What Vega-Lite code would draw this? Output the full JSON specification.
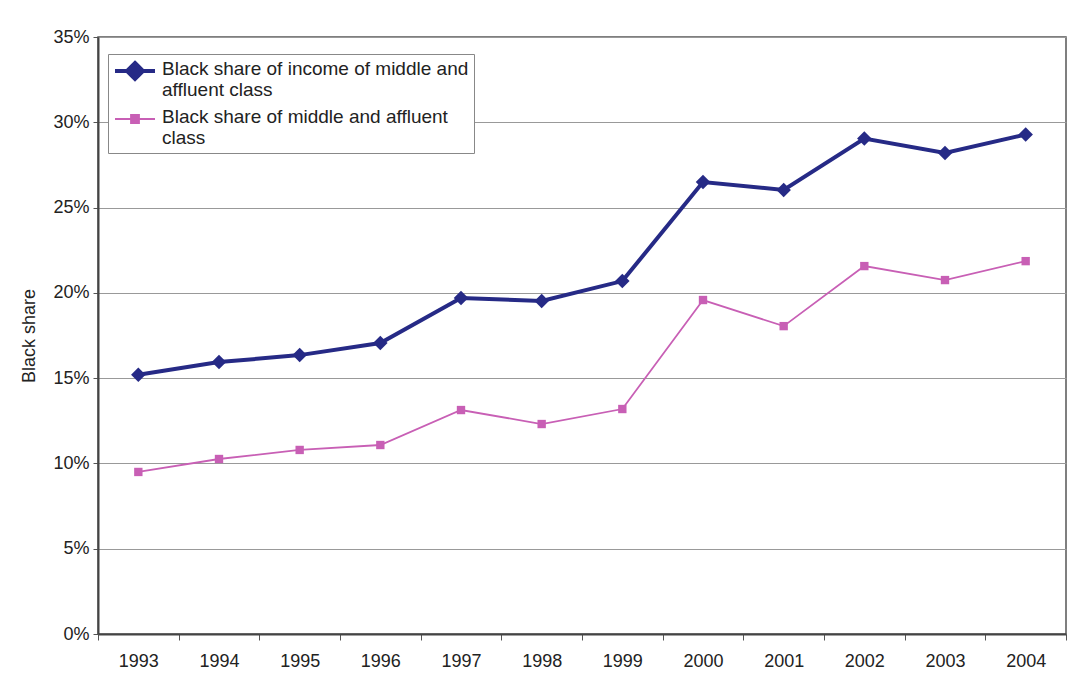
{
  "$schema": "https://vega.github.io/schema/vega-lite/v6.json",
  "width": 968,
  "height": 597,
  "autosize": {"type": "none"},
  "padding": {"left": 98, "top": 37, "right": 7, "bottom": 45},
  "background": "white",
  "config": {
    "font": "Liberation Sans",
    "view": {"stroke": "#555", "strokeWidth": 1.5},
    "axis": {"labelFont": "Liberation Sans", "titleFont": "Liberation Sans", "labelColor": "#222", "titleColor": "#222", "labelFontSize": 18, "titleFontSize": 18, "titleFontWeight": "normal"}
  },
  "data": {
    "values": [
      {"year": "1993", "series": "income", "share": 15.2},
      {"year": "1994", "series": "income", "share": 15.94},
      {"year": "1995", "series": "income", "share": 16.35},
      {"year": "1996", "series": "income", "share": 17.06},
      {"year": "1997", "series": "income", "share": 19.7},
      {"year": "1998", "series": "income", "share": 19.52},
      {"year": "1999", "series": "income", "share": 20.69},
      {"year": "2000", "series": "income", "share": 26.5},
      {"year": "2001", "series": "income", "share": 26.03},
      {"year": "2002", "series": "income", "share": 29.05},
      {"year": "2003", "series": "income", "share": 28.2},
      {"year": "2004", "series": "income", "share": 29.28},
      {"year": "1993", "series": "class", "share": 9.5},
      {"year": "1994", "series": "class", "share": 10.26},
      {"year": "1995", "series": "class", "share": 10.79},
      {"year": "1996", "series": "class", "share": 11.08},
      {"year": "1997", "series": "class", "share": 13.13},
      {"year": "1998", "series": "class", "share": 12.31},
      {"year": "1999", "series": "class", "share": 13.19},
      {"year": "2000", "series": "class", "share": 19.58},
      {"year": "2001", "series": "class", "share": 18.05},
      {"year": "2002", "series": "class", "share": 21.57},
      {"year": "2003", "series": "class", "share": 20.75},
      {"year": "2004", "series": "class", "share": 21.86}
    ]
  },
  "encoding": {
    "x": {
      "field": "year", "type": "ordinal",
      "scale": {"type": "band", "paddingInner": 0, "paddingOuter": 0},
      "axis": {"title": null, "labelAngle": 0, "tickBand": "extent", "ticks": true, "tickSize": 6, "tickColor": "#555", "domainColor": "#444", "domainWidth": 2, "labelPadding": 12, "grid": false}
    },
    "y": {
      "field": "share", "type": "quantitative",
      "scale": {"domain": [0, 35], "nice": false},
      "axis": {"title": "Black share", "values": [0, 5, 10, 15, 20, 25, 30, 35], "labelExpr": "datum.value + '%'", "tickSize": 5, "tickColor": "#555", "domainColor": "#444", "domainWidth": 2, "gridColor": "#999", "gridWidth": 1.2, "labelPadding": 4, "titlePadding": 14}
    },
    "color": {
      "field": "series", "type": "nominal",
      "scale": {"domain": ["income", "class"], "range": ["#262a86", "#c85fb5"]},
      "legend": {
        "title": null,
        "orient": "none",
        "legendX": 10,
        "legendY": 17,
        "fillColor": "white",
        "strokeColor": "#888",
        "padding": 5,
        "rowPadding": 8,
        "labelFontSize": 19,
        "labelLineHeight": 20,
        "labelColor": "#222",
        "labelFont": "Liberation Sans",
        "labelLimit": 420,
        "labelBaseline": "top",
        "labelOffset": 15,
        "symbolOffset": 10,
        "symbolSize": 400,
        "symbolType": "M-2,0H2",
        "labelExpr": "datum.label == 'income' ? ['Black share of income of middle and', 'affluent class'] : ['Black share of middle and affluent', 'class']",
        "encode": {
          "labels": {"update": {"dy": {"value": -11}}},
          "symbols": {
            "update": {
              "shape": {"signal": "datum.value == 'income' ? 'M-2,0H2M0,-0.8L0.8,0L0,0.8L-0.8,0Z' : 'M-2,0H2M-0.4,-0.4H0.4V0.4H-0.4Z'"},
              "fill": {"signal": "datum.value == 'income' ? '#262a86' : '#c85fb5'"},
              "stroke": {"signal": "datum.value == 'income' ? '#262a86' : '#c85fb5'"},
              "strokeWidth": {"signal": "datum.value == 'income' ? 4 : 1.5"},
              "fillOpacity": {"value": 1},
              "opacity": {"value": 1}
            }
          }
        }
      }
    }
  },
  "layer": [
    {
      "mark": {"type": "line"},
      "encoding": {
        "strokeWidth": {"field": "series", "type": "nominal", "scale": {"domain": ["income", "class"], "range": [4, 1.8]}, "legend": null}
      }
    },
    {
      "transform": [{"filter": "datum.series == 'income'"}],
      "mark": {"type": "point", "filled": true, "opacity": 1, "shape": "diamond", "size": 210}
    },
    {
      "transform": [{"filter": "datum.series == 'class'"}],
      "mark": {"type": "point", "filled": true, "opacity": 1, "shape": "square", "size": 70}
    }
  ]
}
